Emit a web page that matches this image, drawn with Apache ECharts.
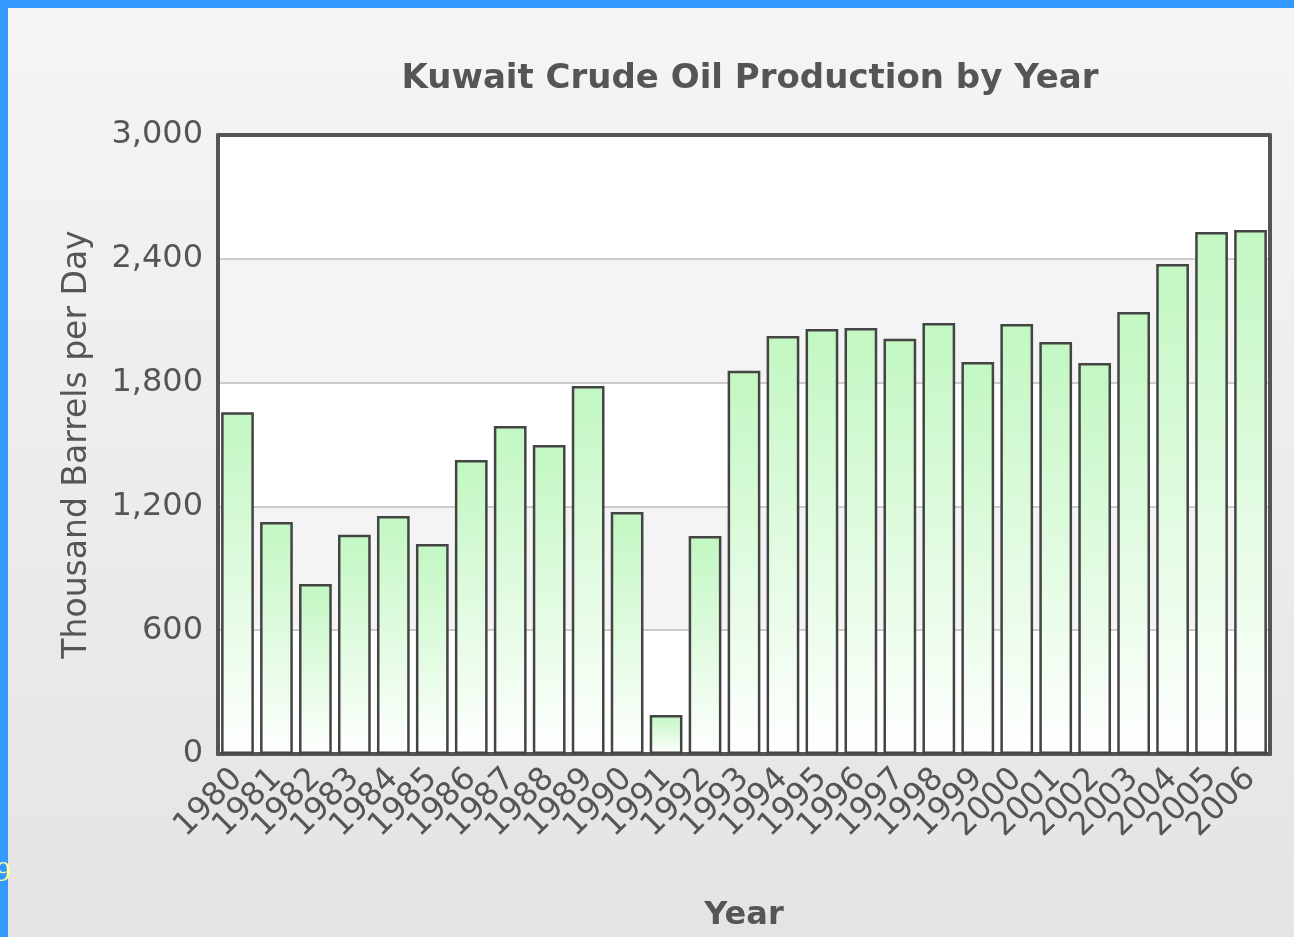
<!DOCTYPE html>
<html>
<head>
<meta charset="utf-8">
<script src="https://cdn.jsdelivr.net/npm/echarts@6/dist/echarts.min.js"></script>
<style>
  html, body { margin: 0; padding: 0; }
  #chart { width: 1294px; height: 937px; }
</style>
</head>
<body>
<div id="chart"></div>
<script>
const years = ['1980', '1981', '1982', '1983', '1984', '1985', '1986', '1987', '1988', '1989',
  '1990', '1991', '1992', '1993', '1994', '1995', '1996', '1997', '1998', '1999',
  '2000', '2001', '2002', '2003', '2004', '2005', '2006'];
const production = [1656, 1125, 824, 1062, 1154, 1018, 1425, 1590, 1498, 1784,
  1173, 189, 1057, 1857, 2026, 2060, 2065, 2012, 2089, 1900,
  2084, 1997, 1895, 2142, 2375, 2530, 2540];

const myChart = echarts.init(document.getElementById('chart'));
const txt = '#555';
const font = 'DejaVu Sans';
const frame = { show: true, onZero: false, lineStyle: { color: '#555', width: 4 } };

const option = {
  animation: false,
  backgroundColor: {
    type: 'linear', x: 0, y: 0, x2: 0, y2: 1,
    colorStops: [{ offset: 0, color: '#f5f5f5' }, { offset: 1, color: '#e4e4e4' }]
  },
  title: {
    text: 'Kuwait Crude Oil Production by Year',
    left: 745, top: 57, textAlign: 'center',
    textStyle: { color: txt, fontFamily: font, fontSize: 34, fontWeight: 'bold' }
  },
  grid: { left: 218, right: 24, top: 135, bottom: 183 },
  xAxis: [{
    type: 'category',
    data: years,
    name: 'Year',
    nameLocation: 'middle',
    nameGap: 146,
    nameTextStyle: { color: txt, fontFamily: font, fontSize: 32, fontWeight: 'bold' },
    axisLine: frame,
    axisTick: { show: false },
    axisLabel: { rotate: 45, color: txt, fontFamily: font, fontSize: 32, margin: 20, interval: 0 }
  }, {
    type: 'category',
    data: years,
    position: 'top',
    axisLine: frame,
    axisTick: { show: false },
    axisLabel: { show: false }
  }],
  yAxis: [{
    type: 'value',
    min: 0, max: 3000, interval: 600,
    name: 'Thousand Barrels per Day',
    nameLocation: 'middle',
    nameGap: 124,
    nameTextStyle: { color: txt, fontFamily: font, fontSize: 33 },
    axisLine: frame,
    axisTick: { show: false },
    axisLabel: {
      color: txt, fontFamily: font, fontSize: 32, margin: 15,
      formatter: v => v.toLocaleString('en-US')
    },
    splitLine: { lineStyle: { color: '#ccc', width: 2 } },
    splitArea: { show: true, areaStyle: { color: ['#ffffff', '#f4f4f4'] } }
  }, {
    type: 'value',
    min: 0, max: 3000, interval: 600,
    position: 'right',
    axisLine: frame,
    axisTick: { show: false },
    axisLabel: { show: false },
    splitLine: { show: false }
  }],
  series: [{
    type: 'bar',
    data: production,
    barCategoryGap: '16%',
    itemStyle: {
      color: {
        type: 'linear', x: 0, y: 0, x2: 0, y2: 1,
        colorStops: [{ offset: 0, color: '#c2f7c2' }, { offset: 1, color: '#ffffff' }]
      },
      borderColor: '#444',
      borderWidth: 2.5
    }
  }],
  graphic: [
    { type: 'rect', left: 0, top: 0, shape: { width: 1294, height: 8 }, style: { fill: '#3399ff' }, z: 100 },
    { type: 'rect', left: 0, top: 0, shape: { width: 8, height: 937 }, style: { fill: '#3399ff' }, z: 100 },
    { type: 'text', left: -4, top: 858, style: { text: '9', fill: '#ffff99', font: '30px "Liberation Serif"' }, z: 101 }
  ]
};
myChart.setOption(option);
</script>
</body>
</html>
